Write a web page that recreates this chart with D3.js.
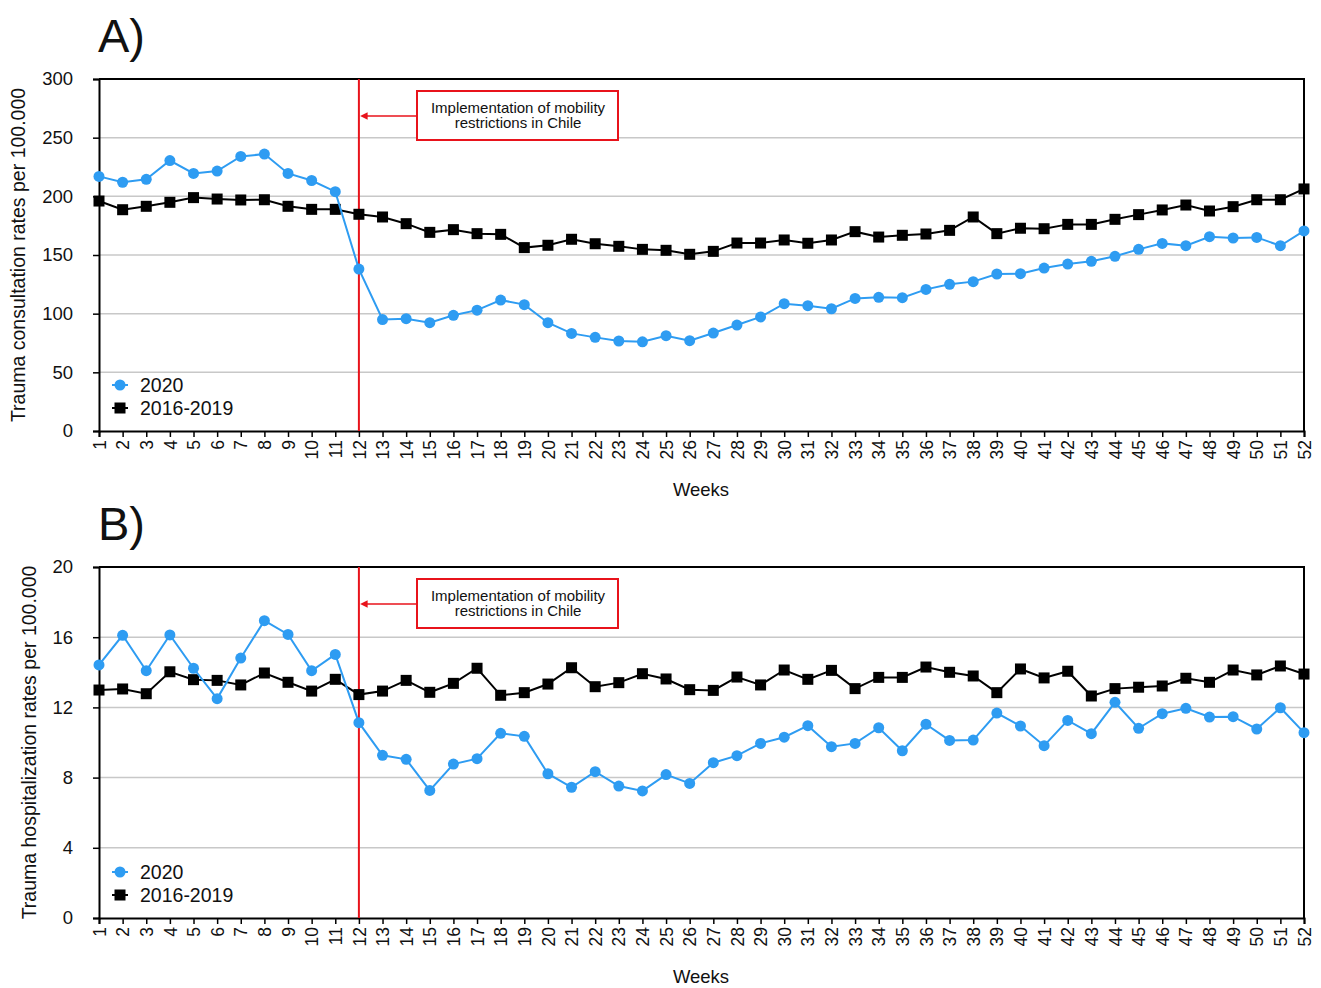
<!DOCTYPE html>
<html>
<head>
<meta charset="utf-8">
<script src="https://cdn.jsdelivr.net/npm/d3@7"></script>
<style>
  body { margin: 0; background: #fff; }
  text { font-family: "Liberation Sans", Arial, Helvetica, sans-serif; fill: #111; }
</style>
</head>
<body>
<script>
const width = 1321;
const height = 988;

const weeks = d3.range(1, 53);

// A) consultation rates
const consult2020 = [217, 212, 214.5, 230.5, 219.5, 221.5, 234, 236, 219.5, 213.5, 204, 138,
    95, 95.7, 92.3, 98.6, 103, 111.6, 107.7, 92.3, 83.2, 79.8, 76.7, 76, 81.2, 77,
    83.5, 90.3, 97.2, 108.5, 106.8, 104.2, 113, 113.9, 113.6, 120.7, 125, 127.3, 133.8, 134.1,
    138.9, 142.3, 144.6, 148.9, 154.8, 159.9, 157.9, 165.6, 164.5, 165, 157.9, 170.5];
const consultBase = [196, 188.6, 191.5, 194.9, 198.9, 197.7, 196.9, 197.1, 191.5, 188.9, 188.9, 184.7,
    182.4, 176.7, 169.3, 171.6, 168.2, 167.6, 156.3, 158.3, 163.4, 159.6, 157.4, 154.8, 154, 150.6,
    153.1, 160.2, 160.2, 162.8, 160, 162.8, 169.9, 165.3, 166.8, 167.9, 171, 182.4, 168.2, 172.8,
    172.4, 176.1, 176.1, 180.4, 184.4, 188.4, 192.6, 187.5, 191.2, 197.1, 197.1, 206.3];

// B) hospitalization rates
const hosp2020 = [14.42, 16.11, 14.09, 16.13, 14.23, 12.5, 14.81, 16.94, 16.16, 14.09, 15.02, 11.13,
    9.27, 9.04, 7.27, 8.77, 9.08, 10.52, 10.35, 8.22, 7.45, 8.34, 7.52, 7.24, 8.17, 7.67,
    8.85, 9.25, 9.95, 10.3, 10.96, 9.76, 9.95, 10.84, 9.53, 11.04, 10.12, 10.14, 11.68, 10.94,
    9.82, 11.26, 10.5, 12.29, 10.81, 11.64, 11.95, 11.45, 11.47, 10.77, 11.98, 10.56];
const hospBase = [12.99, 13.05, 12.78, 14.03, 13.58, 13.54, 13.28, 13.96, 13.43, 12.93, 13.6, 12.73,
    12.93, 13.54, 12.86, 13.37, 14.23, 12.69, 12.84, 13.33, 14.26, 13.18, 13.41, 13.92, 13.62, 13.01,
    12.97, 13.73, 13.28, 14.13, 13.6, 14.11, 13.07, 13.71, 13.71, 14.3, 14.0, 13.79, 12.84, 14.19,
    13.68, 14.06, 12.65, 13.07, 13.15, 13.22, 13.66, 13.43, 14.13, 13.85, 14.36, 13.9];

const consultTicks = [0, 50, 100, 150, 200, 250, 300];
const hospTicks = [0, 4, 8, 12, 16, 20];
const seriesNames = ["2020", "2016-2019"];
const eventWeek = 12;
const eventLabel = ["Implementation of mobility", "restrictions in Chile"];

const blue = "#2e9cf2";
const red = "#e8131b";

const svg = d3.select("body").append("svg")
    .attr("width", width)
    .attr("height", height);

svg.append("defs").append("marker")
    .attr("id", "arrow")
    .attr("viewBox", "0 0 10 10")
    .attr("refX", 1).attr("refY", 5)
    .attr("markerWidth", 5).attr("markerHeight", 5)
    .attr("orient", "auto-start-reverse")
    .append("path")
    .attr("d", "M0,0 L10,5 L0,10 z")
    .attr("fill", red);

const x = d3.scaleLinear().domain([1, 52]).range([99, 1304]);

function drawPanel(opt) {
    const y = d3.scaleLinear().domain(opt.domain).range([opt.bottom, opt.top]);
    const g = svg.append("g");

    // panel letter
    g.append("text")
        .attr("x", 98).attr("y", opt.top - 27)
        .attr("font-size", 47)
        .text(opt.letter);

    // grid
    g.selectAll(".grid")
        .data(opt.ticks.slice(1, -1))
        .enter().append("line")
        .attr("x1", x(1)).attr("x2", x(52))
        .attr("y1", (d) => y(d)).attr("y2", (d) => y(d))
        .attr("stroke", "#c8c8c8")
        .attr("stroke-width", 1.5);

    // frame top / right
    g.append("path")
        .attr("d", `M${x(1)},${opt.top}H${x(52)}V${opt.bottom}`)
        .attr("fill", "none")
        .attr("stroke", "#000")
        .attr("stroke-width", 2);

    // y axis
    const yAxis = g.append("g")
        .attr("transform", `translate(${x(1)},0)`)
        .call(d3.axisLeft(y).tickValues(opt.ticks).tickSize(6).tickPadding(20));
    yAxis.select(".domain").attr("stroke-width", 2);
    yAxis.selectAll(".tick line").attr("stroke-width", 1.5);
    yAxis.selectAll("text").attr("font-size", 18.5).attr("fill", "#111");

    // x axis
    const xAxis = g.append("g")
        .attr("transform", `translate(0,${opt.bottom})`)
        .call(d3.axisBottom(x).tickValues(weeks).tickFormat(d3.format("d")).tickSize(6));
    xAxis.select(".domain").attr("stroke-width", 2);
    xAxis.selectAll(".tick line").attr("stroke-width", 1.5);
    xAxis.selectAll("text")
        .attr("font-size", 17.5)
        .attr("fill", "#111")
        .attr("transform", "rotate(-90)")
        .attr("text-anchor", "end")
        .attr("x", -9)
        .attr("y", 0)
        .attr("dy", "0.35em");

    g.append("text")
        .attr("x", 701).attr("y", opt.bottom + 65)
        .attr("text-anchor", "middle")
        .attr("font-size", 18.5)
        .text("Weeks");

    g.append("text")
        .attr("transform", `translate(${opt.titleX},${(opt.top + opt.bottom) / 2}) rotate(-90)`)
        .attr("text-anchor", "middle")
        .attr("dy", "0.35em")
        .attr("font-size", 19.5)
        .text(opt.yTitle);

    // event line
    g.append("line")
        .attr("x1", x(eventWeek)).attr("x2", x(eventWeek))
        .attr("y1", opt.top).attr("y2", opt.bottom)
        .attr("stroke", red)
        .attr("stroke-width", 2);

    const boxY = opt.top + 12;
    g.append("rect")
        .attr("x", 417).attr("y", boxY)
        .attr("width", 201).attr("height", 49)
        .attr("fill", "#fff")
        .attr("stroke", red)
        .attr("stroke-width", 2);
    g.append("line")
        .attr("x1", 417).attr("x2", x(eventWeek) + 8)
        .attr("y1", boxY + 25).attr("y2", boxY + 25)
        .attr("stroke", red)
        .attr("stroke-width", 1.5)
        .attr("marker-end", "url(#arrow)");
    g.selectAll(".evt")
        .data(eventLabel)
        .enter().append("text")
        .attr("x", 518)
        .attr("y", (d, i) => boxY + 22 + i * 15)
        .attr("text-anchor", "middle")
        .attr("font-size", 15)
        .text((d) => d);

    const line = d3.line()
        .x((d, i) => x(weeks[i]))
        .y((d) => y(d));

    // 2016-2019 series
    g.append("path")
        .attr("d", line(opt.base))
        .attr("fill", "none")
        .attr("stroke", "#000")
        .attr("stroke-width", 2);
    g.selectAll(".sq")
        .data(opt.base)
        .enter().append("rect")
        .attr("x", (d, i) => x(weeks[i]) - 5.5)
        .attr("y", (d) => y(d) - 5.5)
        .attr("width", 11).attr("height", 11)
        .attr("fill", "#000");

    // 2020 series
    g.append("path")
        .attr("d", line(opt.s2020))
        .attr("fill", "none")
        .attr("stroke", blue)
        .attr("stroke-width", 2);
    g.selectAll(".dot")
        .data(opt.s2020)
        .enter().append("circle")
        .attr("cx", (d, i) => x(weeks[i]))
        .attr("cy", (d) => y(d))
        .attr("r", 5.5)
        .attr("fill", blue);

    // legend
    const leg = g.append("g").attr("transform", `translate(120,${opt.bottom - 46})`);
    seriesNames.forEach((name, i) => {
        const row = leg.append("g").attr("transform", `translate(0,${i * 23})`);
        const col = i === 0 ? blue : "#000";
        row.append("line").attr("x1", -8).attr("x2", 8)
            .attr("stroke", col).attr("stroke-width", 2);
        if (i === 0) {
            row.append("circle").attr("r", 5.5).attr("fill", col);
        } else {
            row.append("rect").attr("x", -5.5).attr("y", -5.5)
                .attr("width", 11).attr("height", 11).attr("fill", col);
        }
        row.append("text").attr("x", 20).attr("dy", "0.35em")
            .attr("font-size", 19.5).text(name);
    });
}

drawPanel({
    letter: "A)", top: 79, bottom: 431, domain: [0, 300], ticks: consultTicks,
    s2020: consult2020, base: consultBase, titleX: 18,
    yTitle: "Trauma consultation rates per 100.000"
});

drawPanel({
    letter: "B)", top: 567, bottom: 918, domain: [0, 20], ticks: hospTicks,
    s2020: hosp2020, base: hospBase, titleX: 29,
    yTitle: "Trauma hospitalization rates per 100.000"
});
</script>
</body>
</html>
